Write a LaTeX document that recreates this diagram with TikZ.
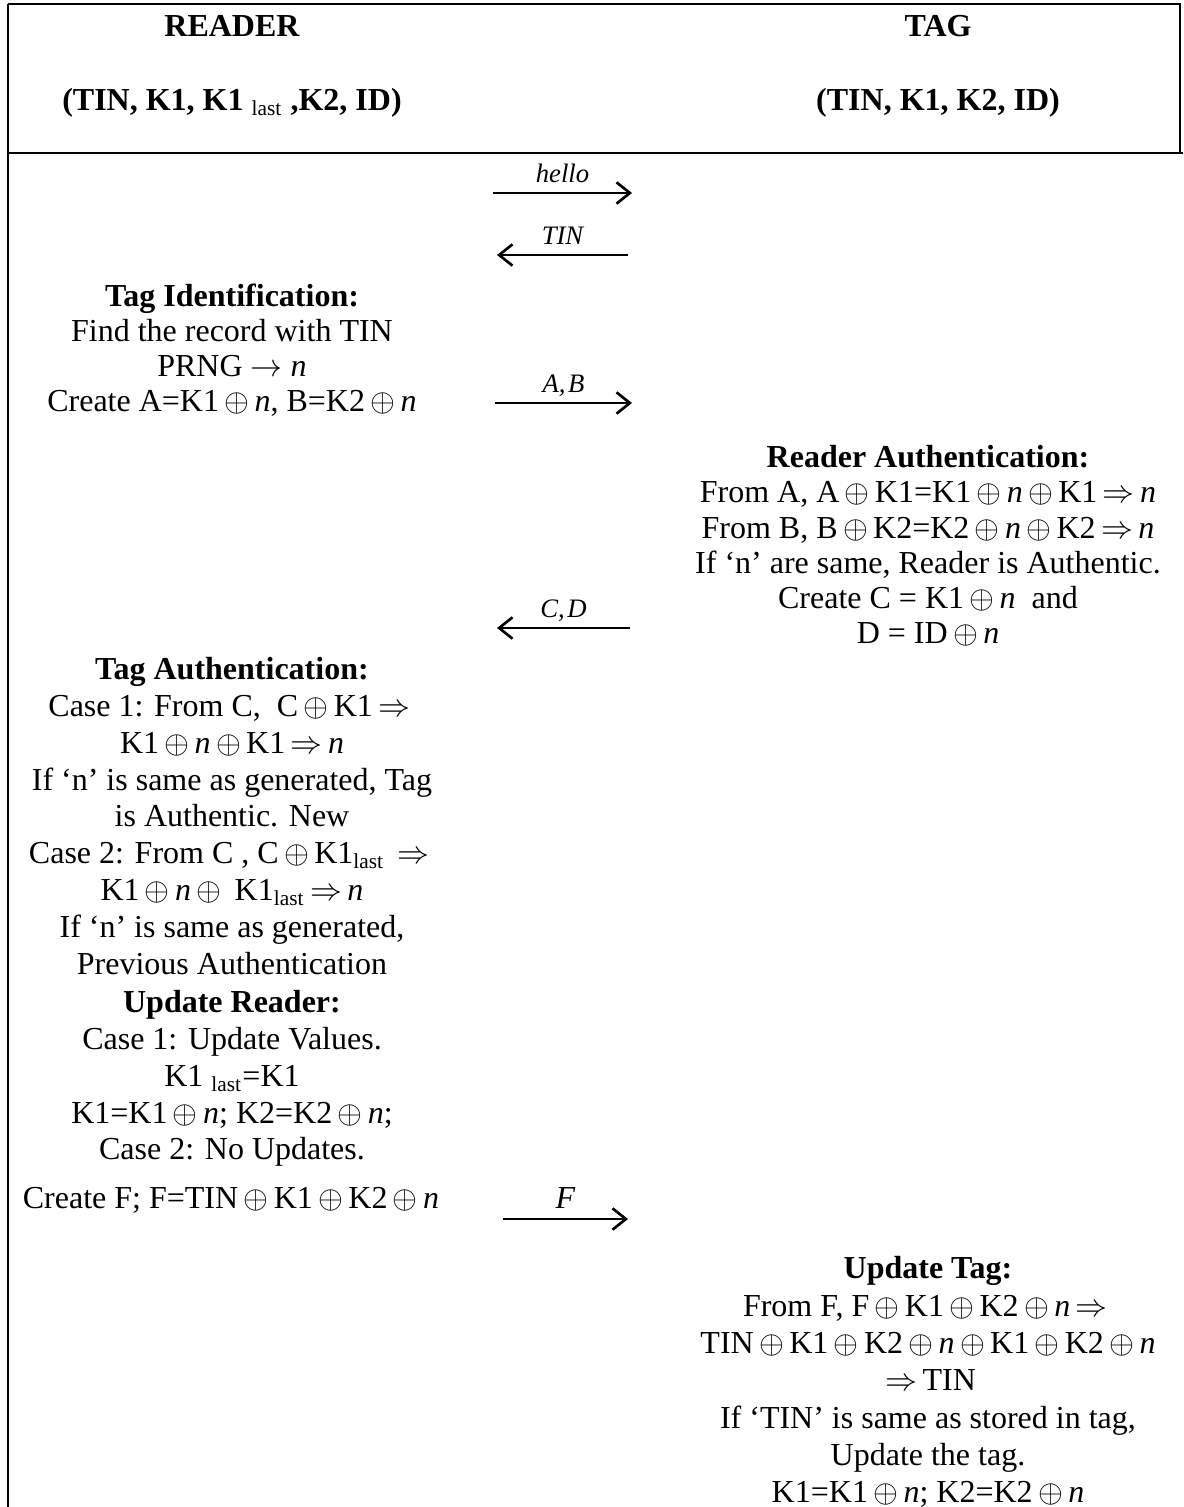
\documentclass[tikz,border=0pt]{standalone}
\usepackage{fontspec}
\setmainfont{Liberation Serif}
\usetikzlibrary{arrows.meta}

% exclusive-or, italic nonce and implication as they appear in the formulas
\newcommand{\myx}{\,$\oplus$\,}
\newcommand{\myn}{\textit{n}}
\newcommand{\myimp}{\,$\Rightarrow$\,}

\begin{document}
\begin{tikzpicture}[x=0.375pt, y=-0.375pt,
  frame/.style={line width=1.1pt},
  block/.style={font=\fontsize{12}{13.8}\selectfont, align=center, inner sep=0pt, anchor=north},
  tight/.style={font=\fontsize{12}{13.2}\selectfont},
  loose/.style={font=\fontsize{12}{14}\selectfont},
  head/.style={font=\fontsize{12}{13.8}\selectfont\bfseries, inner sep=0pt, anchor=base},
  line/.style={font=\fontsize{12}{13.8}\selectfont, inner sep=0pt, anchor=base},
  lbl/.style={font=\fontsize{10}{12}\selectfont\itshape, inner sep=0pt, anchor=base},
  msg/.style={-{Straight Barb[length=5pt,width=8pt,line width=1pt]}, line width=0.8pt}]

\useasboundingbox (0,0) rectangle (1183,1507);

% table frame
\draw[frame] (8,4) -- (1180,4) -- (1180,153);
\draw[frame] (8,1507) -- (8,4);
\draw[frame] (8,153) -- (1183,153);

% header
\node[head] (reader) at (232,37) {READER};
\node[head] (tag) at (938,37) {TAG};
\node[head] (rvars) at (232,111) {(TIN, K1, K1 \textsubscript{\mdseries last} ,K2, ID)};
\node[head] (tvars) at (938,111) {(TIN, K1, K2, ID)};

% messages
\coordinate (hA) at (493,193);  \coordinate (hB) at (632,193);
\coordinate (tA) at (628,255);  \coordinate (tB) at (497,255);
\coordinate (abA) at (495,403); \coordinate (abB) at (632,403);
\coordinate (cdA) at (630,628); \coordinate (cdB) at (497,628);
\coordinate (fA) at (503,1219); \coordinate (fB) at (628,1219);

\draw[msg] (hA) -- (hB) node[lbl, midway, yshift=4pt] (lhello) {hello};
\draw[msg] (tA) -- (tB) node[lbl, midway, yshift=4pt] (ltin) {TIN};
\draw[msg] (abA) -- (abB) node[lbl, midway, yshift=4pt] (lab) {A,\kern1pt B};
\draw[msg] (cdA) -- (cdB) node[lbl, midway, yshift=4pt] (lcd) {C,\kern1pt D};
\draw[msg] (fA) -- (fB) node[lbl, midway, yshift=4pt, font=\fontsize{12}{14}\selectfont\itshape] (lf) {F};

% reader side
\node[block, tight] (tagid) at (232,283) {\textbf{Tag Identification:}\\
  Find the record with TIN\\
  PRNG $\rightarrow$ \myn\\
  Create A=K1\myx\myn, B=K2\myx\myn};

\node[block] (tagauth) at (232,657) {\textbf{Tag Authentication:}\\
  Case 1: From C,\ \ C\myx K1\myimp\\
  K1\myx\myn\myx K1\myimp\myn\\
  If ‘n’ is same as generated, Tag\\
  is Authentic. New\\
  Case 2: From C , C\myx K1\textsubscript{last} \myimp\\
  K1\myx\myn\myx\ K1\textsubscript{last}\myimp\myn\\
  If ‘n’ is same as generated,\\
  Previous Authentication};

\node[block] (updreader) at (232,990) {\textbf{Update Reader:}\\
  Case 1: Update Values.\\
  K1 \textsubscript{last}=K1\\
  K1=K1\myx\myn; K2=K2\myx\myn;\\
  Case 2: No Updates.};

\node[line] (createf) at (231,1208) {Create F; F=TIN\myx K1\myx K2\myx\myn};

% tag side
\node[block, tight] (readauth) at (928,445) {\textbf{Reader Authentication:}\\
  From A, A\myx K1=K1\myx\myn\myx K1\myimp\myn\\
  From B, B\myx K2=K2\myx\myn\myx K2\myimp\myn\\
  If ‘n’ are same, Reader is Authentic.\\
  Create C = K1\myx\myn\ \ and\\
  D = ID\myx\myn};

\node[block, loose] (updtag) at (928,1256) {\textbf{Update Tag:}\\
  From F, F\myx K1\myx K2\myx\myn\myimp\\
  TIN\myx K1\myx K2\myx\myn\myx K1\myx K2\myx\myn\\
  \myimp TIN\\
  If ‘TIN’ is same as stored in tag,\\
  Update the tag.\\
  K1=K1\myx\myn; K2=K2\myx\myn};

\end{tikzpicture}
\end{document}
